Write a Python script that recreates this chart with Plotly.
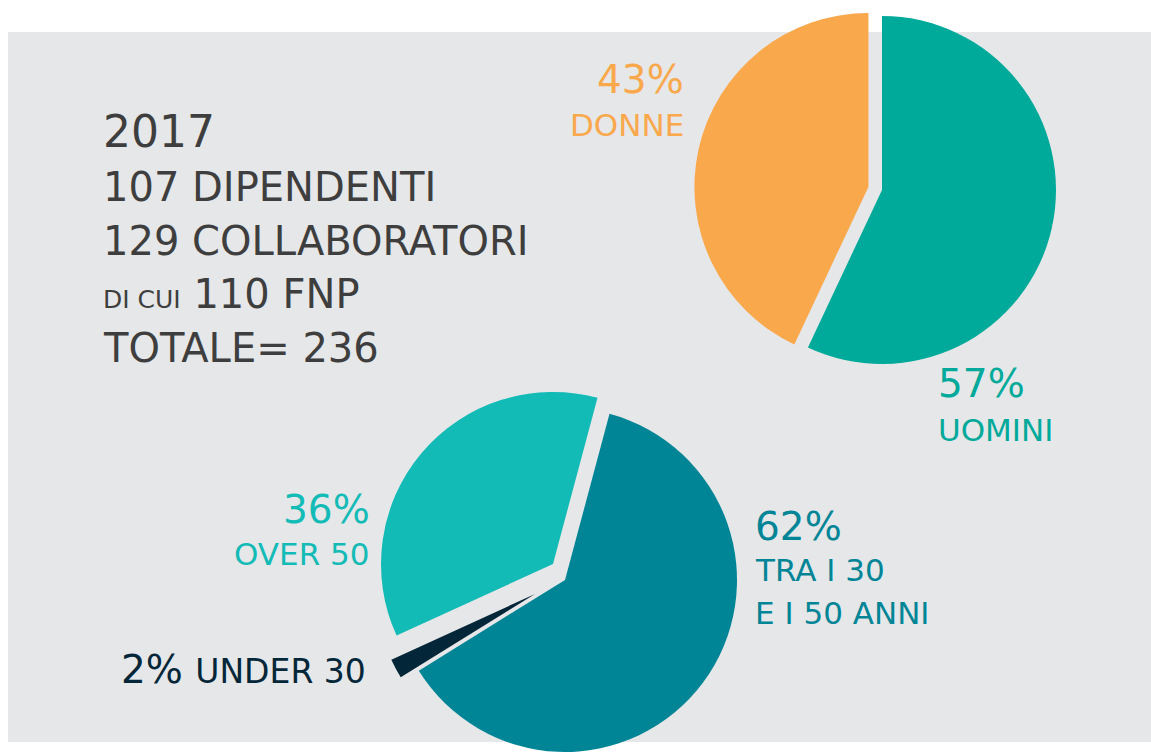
"""Organico 2017: two pies (gender split, age split) on a grey panel."""

import plotly.graph_objects as go

# --- data -----------------------------------------------------------------
headline = ["2017", "107 DIPENDENTI", "129 COLLABORATORI", "110 FNP", "TOTALE= 236"]
headline_prefix = "DI CUI"  # small caps prefix of the 4th line

gender_labels = ["UOMINI", "DONNE"]
gender_values = [57, 43]
gender_pull = [0, 0.08]

age_labels = ["TRA I 30 E I 50 ANNI", "UNDER 30", "OVER 50"]
age_values = [62, 2, 36]

# --- style ----------------------------------------------------------------
# Body margin is dropped in the page (see write_html), so the figure fills
# the whole window and positions below are plain window pixels.
W, H = 1151, 752
FONT = "DejaVu Sans, Verdana, sans-serif"
_PANEL = "#e6e7e9"
_TEXT = "#3e3e3e"
_TEAL = "#00aa9a"
_ORANGE = "#f9a84c"
_LIGHT = "#12bbb6"
_DARK = "#008596"
_NAVY = "#032638"
_CLEAR = "rgba(0,0,0,0)"


def _px(x, y):
    """Window pixel -> paper fraction."""
    return x / W, 1 - y / H


def _domain(cx, cy, half):
    """Pie box centred on window pixel (cx, cy) with half-size ``half``."""
    x0, y1 = _px(cx - half, cy - half)
    x1, y0 = _px(cx + half, cy + half)
    return dict(x=[max(0.0, x0), min(1.0, x1)], y=[max(0.0, y0), min(1.0, y1)])


def _note(text, x, y, size, color, xanchor="left"):
    px, py = _px(x, y)
    return dict(
        text=text,
        x=px,
        y=py,
        xref="paper",
        yref="paper",
        xanchor=xanchor,
        yanchor="middle",
        showarrow=False,
        font=dict(family=FONT, size=size, color=color),
    )


fig = go.Figure()

# Top pie: gender, orange slice pulled out.
fig.add_trace(
    go.Pie(
        labels=gender_labels,
        values=gender_values,
        pull=gender_pull,
        sort=False,
        direction="clockwise",
        rotation=0,
        marker=dict(colors=[_TEAL, _ORANGE]),
        textinfo="none",
        hoverinfo="label+percent",
        domain=_domain(882, 190, 174 * 1.08),
    )
)

# Bottom pie: age. One trace per visible slice so the "pulled" slices can
# be offset without shrinking the pie against the bottom edge.
age_slices = [
    ([_CLEAR, _CLEAR, _LIGHT], (553, 564, 172)),
    ([_CLEAR, _NAVY, _CLEAR], (535, 594, 158)),
    ([_DARK, _CLEAR, _CLEAR], (565, 580, 172)),
]
for colors, (cx, cy, r) in age_slices:
    fig.add_trace(
        go.Pie(
            labels=age_labels,
            values=age_values,
            sort=False,
            direction="clockwise",
            rotation=15,
            marker=dict(colors=colors),
            textinfo="none",
            hoverinfo="label+percent",
            domain=_domain(cx, cy, r),
        )
    )

notes = [
    _note(headline[0], 101, 132, 44, _TEXT),
    _note(headline[1], 101, 187, 40, _TEXT),
    _note(headline[2], 101, 241, 40, _TEXT),
    _note(
        f"<span style='font-size:25px'>{headline_prefix}</span> {headline[3]}",
        101, 294, 40, _TEXT,
    ),
    _note(headline[4], 101, 348, 40, _TEXT),
    _note(f"{gender_values[1]}%", 686, 79, 39, _ORANGE, "right"),
    _note(gender_labels[1], 686, 125, 31, _ORANGE, "right"),
    _note(f"{gender_values[0]}%", 936, 384, 39, _TEAL),
    _note(gender_labels[0], 936, 430, 31, _TEAL),
    _note(f"{age_values[2]}%", 372, 509, 39, _LIGHT, "right"),
    _note(age_labels[2], 372, 554, 31, _LIGHT, "right"),
    _note(f"{age_values[0]}%", 753, 526, 39, _DARK),
    _note("TRA I 30", 753, 570, 31, _DARK),
    _note("E I 50 ANNI", 753, 613, 31, _DARK),
    _note(
        f"{age_values[1]}% <span style='font-size:33px'>{age_labels[1]}</span>",
        119, 669, 39, _NAVY,
    ),
]

x0, y1 = _px(8, 32)
x1, y0 = _px(1151, 742)
fig.update_layout(
    width=W,
    height=H,
    margin=dict(l=0, r=0, t=0, b=0),
    paper_bgcolor="white",
    plot_bgcolor="white",
    showlegend=False,
    font=dict(family=FONT, color=_TEXT),
    annotations=notes,
    shapes=[
        dict(
            type="rect",
            xref="paper",
            yref="paper",
            x0=x0,
            x1=x1,
            y0=y0,
            y1=y1,
            fillcolor=_PANEL,
            line=dict(width=0),
            layer="below",
        )
    ],
)

fig.write_html(
    "out.html",
    config={"displayModeBar": False},
    post_script="document.body.style.margin = '0'; document.body.style.overflow = 'hidden';",
)
